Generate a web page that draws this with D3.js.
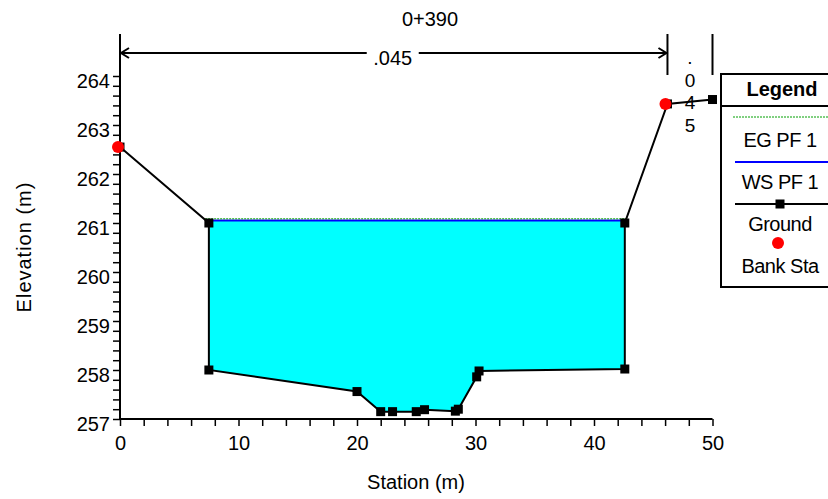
<!DOCTYPE html>
<html><head><meta charset="utf-8">
<script src="https://cdn.jsdelivr.net/npm/d3@7"></script>
<style>
body{margin:0;background:#fff;}
svg{display:block;font-family:"Liberation Sans",Arial,sans-serif;}
</style></head>
<body>
<svg id="c" width="828" height="499"></svg>
<script>
// ---- data ----
const title = "0+390";
const stations   = [0, 7.5, 7.5, 20.0, 22.0, 23.0, 25.0, 25.7, 28.3, 28.55, 30.1, 30.3, 42.6, 42.6, 46.2, 50];
const elevations = [262.55, 261.0, 258.0, 257.56, 257.15, 257.15, 257.15, 257.19, 257.16, 257.2, 257.86, 257.98, 258.02, 261.0, 263.43, 263.52];
const bankStations = [0, 46.2];
const bankElevations = [262.55, 263.43];
const wsElevation = [261.05];
const egElevation = [261.065];
const nBreaks = [0, 46.2, 50];
const nValues = [".045", ".045"];
const xTicks = [0, 10, 20, 30, 40, 50];
const xMinorTicks = [2,4,6,8,12,14,16,18,22,24,26,28,32,34,36,38,42,44,46,48];
const yTicks = [257, 258, 259, 260, 261, 262, 263, 264];
const legendLabels = ["EG PF 1", "WS PF 1", "Ground", "Bank Sta"];

// ---- scales ----
const svg = d3.select("#c");
const x = d3.scaleLinear().domain([0, 50]).range([120, 712.5]);
const y = d3.scaleLinear().domain([257, 264]).range([419, 76]);
const yTopVal = y.invert(34);
const yMinor = d3.range(257, 264.01, 0.2).filter(v => Math.abs(v - Math.round(v)) > 0.01);

// ---- water fill ----
function crossings(level) {
  const xs = [];
  for (let i = 0; i < stations.length - 1; i++) {
    const a = elevations[i] - level, b = elevations[i+1] - level;
    if ((a > 0) !== (b > 0)) {
      xs.push(stations[i] + (stations[i+1] - stations[i]) * a / (a - b));
    }
  }
  return xs;
}
const ws = wsElevation[0];
const cr = crossings(ws);
const wl = cr[0], wr = cr[cr.length - 1];
const poly = [[wl, ws]];
stations.forEach((s, i) => { if (s > wl && s < wr) poly.push([s, elevations[i]]); });
poly.push([wr, ws]);
svg.append("path")
  .attr("d", d3.line().x(d => x(d[0])).y(d => y(d[1]))(poly) + "Z")
  .attr("fill", "#00FFFF").attr("stroke", "none");

// WS and EG lines
svg.append("line").attr("x1", x(wl)).attr("x2", x(wr)).attr("y1", y(ws)).attr("y2", y(ws))
  .attr("stroke", "#0000FF").attr("stroke-width", 2);
const eg = egElevation[0];
const ce = crossings(eg);
svg.append("line").attr("x1", x(ce[0])).attr("x2", x(ce[ce.length-1])).attr("y1", y(eg) - 1).attr("y2", y(eg) - 1)
  .attr("stroke", "#00A000").attr("stroke-width", 1).attr("stroke-dasharray", "2,1");

// ---- axes ----
const yAxis = svg.append("g").attr("transform", `translate(${x(0)},0)`)
  .call(d3.axisLeft(y).tickValues(yTicks).tickSize(7).tickSizeOuter(0).tickFormat(d3.format("d")));
yAxis.select(".domain").remove();
yAxis.selectAll(".tick line").attr("stroke-width", 1.5);
yAxis.selectAll("text").attr("x", -10).attr("dy", 11).attr("font-size", 20)
  .attr("font-family", "Liberation Sans, Arial, sans-serif").attr("fill", "#000");
const yAxisMinor = svg.append("g").attr("transform", `translate(${x(0)},0)`)
  .call(d3.axisLeft(y).tickValues(yMinor).tickSize(7).tickSizeOuter(0).tickFormat(""));
yAxisMinor.select(".domain").remove();
yAxisMinor.selectAll(".tick line").attr("stroke-width", 1.5);
svg.append("line").attr("x1", x(0)).attr("x2", x(0)).attr("y1", y(yTopVal)).attr("y2", y(257) + 1)
  .attr("stroke", "#000").attr("stroke-width", 2);

const xAxis = svg.append("g").attr("transform", `translate(0,${y(257)})`)
  .call(d3.axisBottom(x).tickValues(xTicks).tickSize(7).tickSizeOuter(0).tickFormat(d3.format("d")));
xAxis.select(".domain").remove();
xAxis.selectAll(".tick line").attr("stroke-width", 1.5);
xAxis.selectAll("text").attr("y", 0).attr("dy", 31).attr("font-size", 20)
  .attr("font-family", "Liberation Sans, Arial, sans-serif").attr("fill", "#000");
const xAxisMinor = svg.append("g").attr("transform", `translate(0,${y(257)})`)
  .call(d3.axisBottom(x).tickValues(xMinorTicks).tickSize(7).tickSizeOuter(0).tickFormat(""));
xAxisMinor.select(".domain").remove();
xAxisMinor.selectAll(".tick line").attr("stroke-width", 1.5);
svg.append("line").attr("x1", x(0) - 1).attr("x2", x(50)).attr("y1", y(257)).attr("y2", y(257))
  .attr("stroke", "#000").attr("stroke-width", 2);

// axis titles
svg.append("text").attr("x", 416).attr("y", 489).attr("text-anchor", "middle")
  .attr("font-size", 20).text("Station (m)");
svg.append("text").attr("transform", "translate(31,247) rotate(-90)").attr("text-anchor", "middle")
  .attr("font-size", 20).attr("letter-spacing", 1).text("Elevation (m)");
svg.append("text").attr("x", 430).attr("y", 26).attr("text-anchor", "middle")
  .attr("font-size", 20).text(title);

// ---- n-value bars ----
const barTop = 34, barBot = 75, arrowY = 53;
nBreaks.forEach(b => {
  svg.append("line").attr("x1", x(b)).attr("x2", x(b)).attr("y1", barTop).attr("y2", barBot)
    .attr("stroke", "#000").attr("stroke-width", 2);
});
// main channel arrow with label
{
  const x1 = x(nBreaks[0]), x2 = x(nBreaks[1]);
  const mid = (x1 + x2) / 2 - 1;
  const half = 26;
  svg.append("line").attr("x1", x1).attr("x2", mid - half).attr("y1", arrowY).attr("y2", arrowY)
    .attr("stroke", "#000").attr("stroke-width", 2);
  svg.append("line").attr("x1", mid + half).attr("x2", x2).attr("y1", arrowY).attr("y2", arrowY)
    .attr("stroke", "#000").attr("stroke-width", 2);
  svg.append("path").attr("d", `M${x1+9},${arrowY-5}L${x1+1},${arrowY}L${x1+9},${arrowY+5}`)
    .attr("fill", "none").attr("stroke", "#000").attr("stroke-width", 2);
  svg.append("path").attr("d", `M${x2-9},${arrowY-5}L${x2-1},${arrowY}L${x2-9},${arrowY+5}`)
    .attr("fill", "none").attr("stroke", "#000").attr("stroke-width", 2);
  svg.append("text").attr("x", mid).attr("y", 65).attr("text-anchor", "middle")
    .attr("font-size", 20).text(nValues[0]);
}
// narrow right overbank: vertical stacked characters
{
  const cx = (x(nBreaks[1]) + x(nBreaks[2])) / 2;
  const chars = nValues[1].split("");
  svg.append("g").selectAll("text").data(chars).join("text")
    .attr("x", cx).attr("y", (d, i) => 64 + i * 22.5)
    .attr("text-anchor", "middle").attr("font-size", 19).text(d => d);
}

// ---- ground ----
svg.append("path")
  .attr("d", d3.line().x((d, i) => x(stations[i])).y((d, i) => y(elevations[i]))(stations))
  .attr("fill", "none").attr("stroke", "#000").attr("stroke-width", 2);
svg.append("g").selectAll("rect").data(stations).join("rect")
  .attr("x", (d) => x(d) - 4.5).attr("y", (d, i) => y(elevations[i]) - 4.5)
  .attr("width", 9).attr("height", 9).attr("fill", "#000");
svg.append("g").selectAll("circle").data(bankStations).join("circle")
  .attr("cx", d => x(d) - 2).attr("cy", (d, i) => y(bankElevations[i]))
  .attr("r", 6).attr("fill", "#FF0000");

// ---- legend ----
const lg = svg.append("g");
lg.append("rect").attr("x", 721).attr("y", 74).attr("width", 125).attr("height", 213)
  .attr("fill", "#fff").attr("stroke", "#000").attr("stroke-width", 2);
lg.append("line").attr("x1", 721).attr("x2", 846).attr("y1", 106).attr("y2", 106)
  .attr("stroke", "#000").attr("stroke-width", 2);
lg.append("text").attr("x", 782).attr("y", 96).attr("text-anchor", "middle")
  .attr("font-size", 20).attr("font-weight", "bold").text("Legend");
lg.append("line").attr("x1", 733).attr("x2", 846).attr("y1", 117).attr("y2", 117)
  .attr("stroke", "#00A000").attr("stroke-width", 1).attr("stroke-dasharray", "2,1");
lg.append("line").attr("x1", 735).attr("x2", 846).attr("y1", 162).attr("y2", 162)
  .attr("stroke", "#0000FF").attr("stroke-width", 2);
lg.append("line").attr("x1", 735).attr("x2", 846).attr("y1", 204).attr("y2", 204)
  .attr("stroke", "#000").attr("stroke-width", 2);
lg.append("rect").attr("x", 775.5).attr("y", 199.5).attr("width", 9).attr("height", 9).attr("fill", "#000");
lg.append("circle").attr("cx", 778).attr("cy", 243).attr("r", 6).attr("fill", "#FF0000");
const lgY = [147, 189, 231, 273];
lg.selectAll("text.l").data(legendLabels).join("text").attr("class", "l")
  .attr("x", 780).attr("y", (d, i) => lgY[i]).attr("text-anchor", "middle")
  .attr("font-size", 20).attr("letter-spacing", -0.5).text(d => d);
</script>
</body></html>
